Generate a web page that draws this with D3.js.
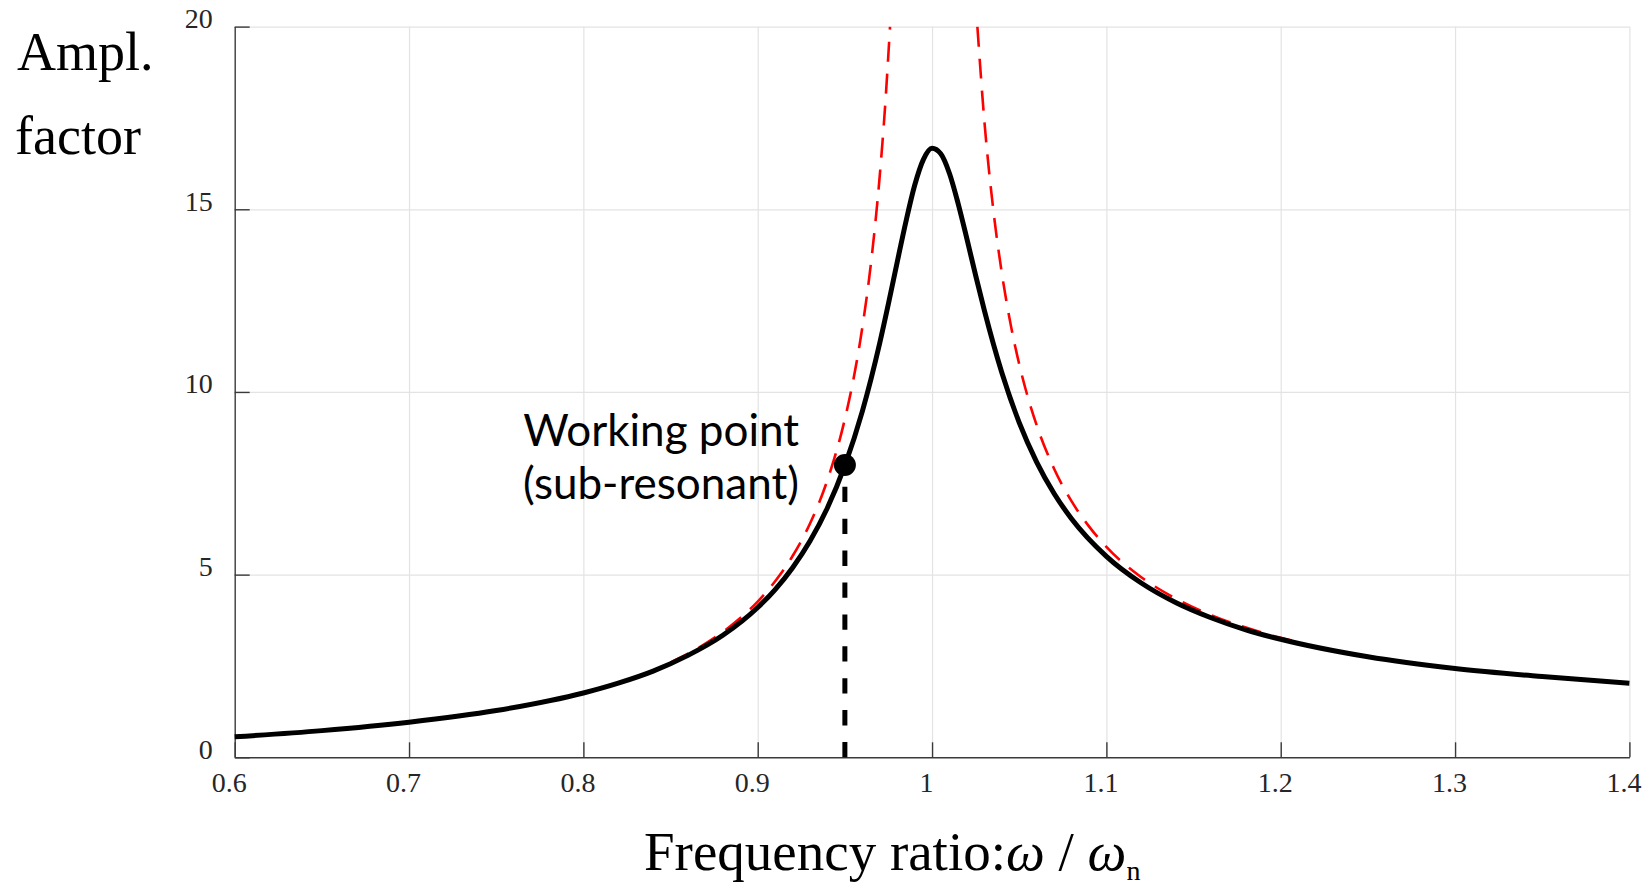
<!DOCTYPE html>
<html>
<head>
<meta charset="utf-8">
<script src="https://cdn.jsdelivr.net/npm/d3@7"></script>
<style>
  html, body { margin: 0; padding: 0; background: #fff; }
  svg { display: block; }
</style>
</head>
<body>
<svg id="chart" width="1650" height="888"></svg>
<script>
// values
var freqRatio = [0.6, 0.65, 0.7, 0.75, 0.8, 0.82, 0.84, 0.86, 0.88, 0.9, 0.91, 0.92, 0.93, 0.94, 0.95,
    0.96, 0.97, 0.975, 0.98, 0.985, 0.99, 0.995, 1.0, 1.005, 1.01, 1.015, 1.02, 1.025, 1.03, 1.04, 1.05,
    1.06, 1.07, 1.08, 1.1, 1.12, 1.14, 1.16, 1.18, 1.2, 1.25, 1.3, 1.35, 1.4];
var amplDamped = [0.56, 0.73, 0.96, 1.28, 1.76, 2.03, 2.36, 2.79, 3.34, 4.10, 4.59, 5.19, 5.92, 6.83, 7.99,
    9.47, 11.34, 12.42, 13.55, 14.66, 15.65, 16.36, 16.67, 16.52, 15.98, 15.15, 14.19, 13.19, 12.23, 10.53, 9.16,
    8.08, 7.22, 6.53, 5.50, 4.77, 4.23, 3.82, 3.49, 3.23, 2.75, 2.43, 2.21, 2.03];

// undamped curve (red dashed), two branches either side of resonance
var undampedLeftX = [0.85, 0.87, 0.89, 0.9, 0.91, 0.92, 0.93, 0.94, 0.95, 0.955, 0.96, 0.965, 0.97, 0.973, 0.9759];
var undampedLeftY = [2.60, 3.11, 3.81, 4.26, 4.82, 5.51, 6.40, 7.59, 9.26, 10.37, 11.76, 13.54, 15.92, 17.77, 20];
var undampedRightX = [1.026, 1.03, 1.035, 1.04, 1.045, 1.05, 1.06, 1.07, 1.08, 1.09, 1.1, 1.12, 1.14, 1.16, 1.18, 1.2, 1.21];
var undampedRightY = [20, 17.42, 15.04, 13.26, 11.87, 10.76, 9.09, 7.90, 7.01, 6.32, 5.76, 4.93, 4.34, 3.89, 3.55, 3.27, 3.16];

var workingPointX = 0.95;
var workingPointY = 8.0;

var xTickValues = [0.6, 0.7, 0.8, 0.9, 1, 1.1, 1.2, 1.3, 1.4];
var yTickValues = [0, 5, 10, 15, 20];

var svg = d3.select("#chart");
var margin = { left: 234.7, right: 20.6, top: 26.6, bottom: 130.7 };
var width = 1650 - margin.left - margin.right;
var height = 888 - margin.top - margin.bottom;

var x = d3.scaleLinear().domain([0.6, 1.4]).range([0, width]);
var y = d3.scaleLinear().domain([0, 20]).range([height, 0]);

var g = svg.append("g")
    .attr("transform", "translate(" + margin.left + "," + margin.top + ")");

svg.append("defs").append("clipPath")
    .attr("id", "plot-clip")
    .append("rect")
    .attr("x", -2)
    .attr("y", 0)
    .attr("width", width + 4)
    .attr("height", height);

// grid
g.append("g")
    .attr("class", "grid")
    .attr("transform", "translate(0," + height + ")")
    .call(d3.axisBottom(x).tickValues(xTickValues.slice(1)).tickSize(-height).tickFormat(""))
    .call(function (s) { s.select(".domain").remove(); });
g.append("g")
    .attr("class", "grid")
    .call(d3.axisLeft(y).tickValues(yTickValues.slice(1)).tickSize(-width).tickFormat(""))
    .call(function (s) { s.select(".domain").remove(); });
g.selectAll(".grid line")
    .attr("stroke", "#e3e3e3")
    .attr("stroke-width", 1.2);

// axes, ticks pointing inward
var xAxis = g.append("g")
    .attr("transform", "translate(0," + height + ")")
    .call(d3.axisBottom(x).tickValues(xTickValues).tickSizeInner(-15).tickSizeOuter(0)
        .tickFormat(function (d) { return String(d); }));
var yAxis = g.append("g")
    .call(d3.axisLeft(y).tickValues(yTickValues).tickSizeInner(-15).tickSizeOuter(0)
        .tickFormat(function (d) { return String(d); }));

[xAxis, yAxis].forEach(function (a) {
    a.select(".domain").attr("stroke", "#3a3a3a").attr("stroke-width", 1.4);
    a.selectAll(".tick line").attr("stroke", "#3a3a3a").attr("stroke-width", 1.4);
    a.selectAll("text")
        .attr("fill", "#262626")
        .style("font-family", "'Liberation Serif', 'Times New Roman', serif")
        .style("font-size", "28px");
});
xAxis.selectAll("text")
    .attr("y", 35)
    .attr("dy", 0)
    .attr("dx", -6);
yAxis.selectAll("text")
    .attr("x", -22)
    .attr("dy", 1);

// curves
var plot = g.append("g").attr("clip-path", "url(#plot-clip)");

var line = d3.line()
    .x(function (d) { return x(d[0]); })
    .y(function (d) { return y(d[1]); })
    .curve(d3.curveMonotoneX);

var redLeft = d3.zip(undampedLeftX, undampedLeftY);
var redRight = d3.zip(undampedRightX, undampedRightY);
[redLeft, redRight].forEach(function (pts) {
    plot.append("path")
        .datum(pts)
        .attr("d", line)
        .attr("fill", "none")
        .attr("stroke", "#ff0000")
        .attr("stroke-width", 2.6)
        .attr("stroke-dasharray", "20,12");
});

plot.append("path")
    .datum(d3.zip(freqRatio, amplDamped))
    .attr("d", line)
    .attr("fill", "none")
    .attr("stroke", "#000")
    .attr("stroke-width", 5)
    .attr("stroke-linejoin", "round");

// working point marker and drop line
g.append("line")
    .attr("x1", x(workingPointX))
    .attr("x2", x(workingPointX))
    .attr("y1", y(0))
    .attr("y2", y(workingPointY))
    .attr("stroke", "#000")
    .attr("stroke-width", 5)
    .attr("stroke-dasharray", "15.3,16.6");
g.append("circle")
    .attr("cx", x(workingPointX))
    .attr("cy", y(workingPointY))
    .attr("r", 11)
    .attr("fill", "#000");

var note = svg.append("text")
    .attr("text-anchor", "end")
    .style("font-family", "Lato, 'Open Sans', sans-serif")
    .style("font-size", "44px")
    .attr("fill", "#000");
note.append("tspan").attr("x", 799).attr("y", 446).text("Working point");
note.append("tspan").attr("x", 799).attr("y", 499).text("(sub-resonant)");

// axis titles
var serif = "'Liberation Serif', 'Times New Roman', serif";
svg.append("text")
    .attr("x", 17)
    .attr("y", 70)
    .style("font-family", serif)
    .style("font-size", "54px")
    .text("Ampl.");
svg.append("text")
    .attr("x", 15)
    .attr("y", 154)
    .style("font-family", serif)
    .style("font-size", "54px")
    .text("factor");

var xTitle = svg.append("text")
    .attr("x", 644)
    .attr("y", 870)
    .style("font-family", serif)
    .style("font-size", "55px");
xTitle.append("tspan").text("Frequency ratio:");
xTitle.append("tspan").style("font-style", "italic").text("\u03c9");
xTitle.append("tspan").text(" / ");
xTitle.append("tspan").style("font-style", "italic").text("\u03c9");
xTitle.append("tspan").attr("dy", 10).style("font-size", "28px").text("n");
</script>
</body>
</html>
